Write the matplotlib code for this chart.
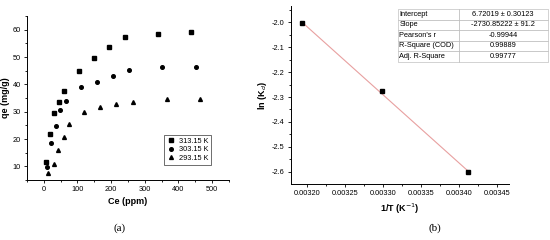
import numpy as np
import matplotlib.pyplot as plt
from matplotlib.ticker import MultipleLocator

plt.rcParams['font.family'] = ['Liberation Sans', 'DejaVu Sans']

# (a) adsorption isotherms
ce_313 = [8, 18, 30, 46, 61, 104, 150, 195, 242, 340, 439]
qe_313 = [11.7, 21.8, 29.5, 33.5, 37.7, 44.8, 49.6, 53.7, 57.2, 58.5, 59.1]
ce_303 = [10, 21, 35, 48, 65, 110, 158, 206, 253, 352, 452]
qe_303 = [9.9, 18.7, 24.6, 30.6, 33.8, 38.9, 40.7, 43.0, 45.3, 46.4, 46.4]
ce_293 = [13, 29, 43, 59, 74, 120, 168, 216, 266, 365, 464]
qe_293 = [7.7, 10.9, 15.8, 20.8, 25.6, 30.0, 31.8, 33.0, 33.4, 34.5, 34.5]

# (b) van 't Hoff plot
temps = np.array([313.15, 303.15, 293.15])
inv_t = 1 / temps
ln_kd = [-2.005, -2.277, -2.601]

fit_rows = ["Intercept", "Slope", "Pearson's r", "R-Square (COD)", "Adj. R-Square"]
fit_vals = ["6.72019 ± 0.30123", "-2730.85222 ± 91.2", "-0.99944", "0.99889", "0.99777"]

fig = plt.figure(figsize=(5.5, 2.4), dpi=100)
ax1 = fig.add_axes([0.049, 0.25, 0.367, 0.683])
ax2 = fig.add_axes([0.529, 0.233, 0.396, 0.74])

for ax in (ax1, ax2):
    ax.spines['top'].set_visible(False)
    ax.spines['right'].set_visible(False)
    ax.tick_params(which='both', direction='out', labelsize=5.3, width=0.6, pad=2)
    ax.tick_params(which='major', length=2.5)
    ax.tick_params(which='minor', length=1.5)
    for s in ('left', 'bottom'):
        ax.spines[s].set_linewidth(0.7)

ax1.plot(ce_313, qe_313, 's', color='black', ms=2.6, label='313.15 K')
ax1.plot(ce_303, qe_303, 'o', color='black', ms=2.6, label='303.15 K')
ax1.plot(ce_293, qe_293, '^', color='black', ms=2.8, label='293.15 K')
ax1.set_xlim(-50, 550)
ax1.set_ylim(5, 65)
ax1.xaxis.set_major_locator(MultipleLocator(100))
ax1.xaxis.set_minor_locator(MultipleLocator(50))
ax1.yaxis.set_major_locator(MultipleLocator(10))
ax1.yaxis.set_minor_locator(MultipleLocator(5))
ax1.set_xlabel('Ce (ppm)', fontsize=6.5, fontweight='bold', labelpad=3)
ax1.set_ylabel('qe (mg/g)', fontsize=6.5, fontweight='bold', labelpad=2)
leg = ax1.legend(loc='lower right', fontsize=5.3, frameon=True, fancybox=False,
                 edgecolor='black', handletextpad=0.4, borderpad=0.4,
                 labelspacing=0.2, handlelength=1.2, bbox_to_anchor=(0.93, 0.07))
leg.get_frame().set_linewidth(0.5)

ends = [inv_t[0], inv_t[-1]]
ax2.plot(ends, np.polyval(np.polyfit(inv_t, ln_kd, 1), ends),
         color='#e8a0a0', lw=0.8)
ax2.plot(inv_t, ln_kd, 's', color='black', ms=2.8)
ax2.set_xlim(0.003179, 0.003465)
ax2.set_ylim(-2.649, -1.937)
ax2.xaxis.set_major_locator(MultipleLocator(0.00005))
ax2.xaxis.set_minor_locator(MultipleLocator(0.000025))
ax2.yaxis.set_major_locator(MultipleLocator(0.1))
ax2.yaxis.set_minor_locator(MultipleLocator(0.05))
ax2.xaxis.set_major_formatter(plt.FormatStrFormatter('%.5f'))
ax2.yaxis.set_major_formatter(plt.FormatStrFormatter('%.1f'))
ax2.set_xlabel('1/T (K$^{-1}$)', fontsize=6.5, fontweight='bold', labelpad=3)
ax2.set_ylabel('ln (K$_d$)', fontsize=6.5, fontweight='bold', labelpad=2)

tbl = ax2.table(cellText=[[r, v] for r, v in zip(fit_rows, fit_vals)],
                cellLoc='center', colWidths=[0.34, 0.5],
                bbox=[0.49, 0.69, 0.69, 0.295])
tbl.auto_set_font_size(False)
tbl.set_fontsize(5.3)
for (r, c), cell in tbl.get_celld().items():
    cell.set_edgecolor('#b0b0b0')
    cell.set_linewidth(0.4)
    if c == 0:
        cell._loc = 'left'
        cell.PAD = 0.03
        cell.get_text().set_ha('left')
tbl.set_clip_on(False)

fig.text(0.218, 0.04, '(a)', fontsize=8, family='Liberation Serif', ha='center')
fig.text(0.79, 0.04, '(b)', fontsize=8, family='Liberation Serif', ha='center')

fig.savefig('out.png', dpi=100)
